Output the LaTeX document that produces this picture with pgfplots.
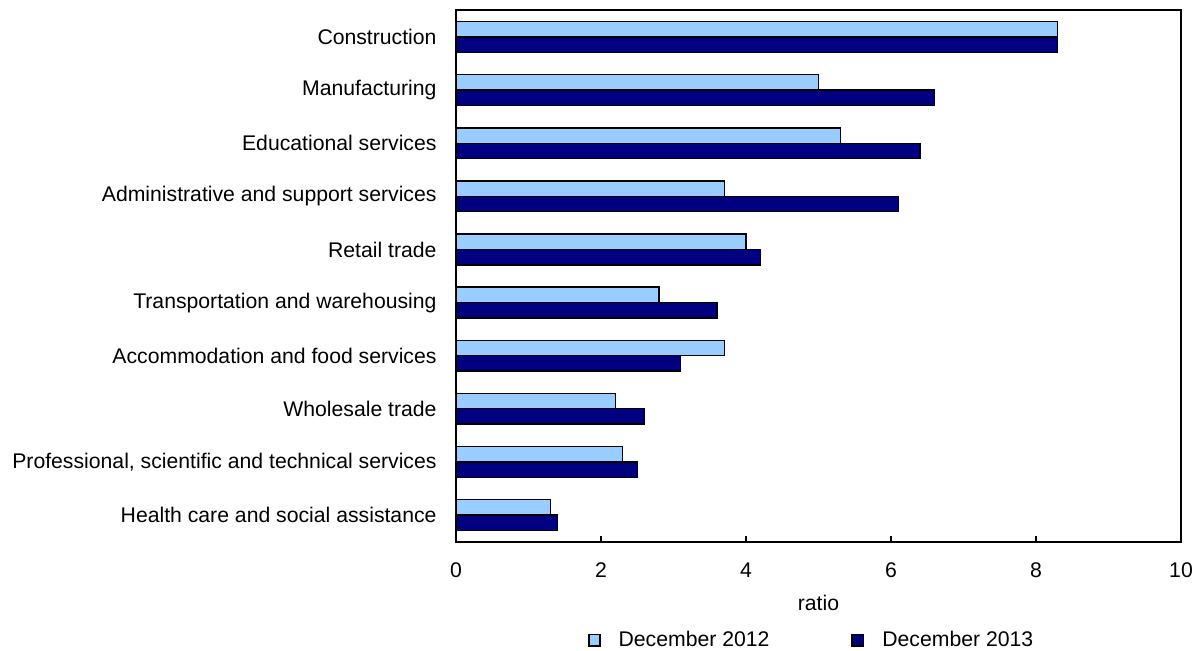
\documentclass[border=0pt]{standalone}
\usepackage{fontspec}
\setmainfont{Liberation Sans}
\usepackage{pgfplots}
\pgfplotsset{compat=1.18}
\definecolor{lightb}{HTML}{99CCFF}
\definecolor{darkb}{HTML}{000080}
\begin{document}
\fontsize{10.6}{12.5}\selectfont
\begin{tikzpicture}
\begin{axis}[
  name=ax,
  scale only axis,
  width=362.5pt, height=265.5pt,
  xbar,
  xmin=0, xmax=10,
  ymin=-0.5, ymax=9.5,
  bar width=0.29,
  xtick={0,2,4,6,8,10},
  ytick={0,...,9},
  yticklabels={Health care and social assistance,
    {Professional, scientific and technical services},
    Wholesale trade,
    Accommodation and food services,
    Transportation and warehousing,
    Retail trade,
    Administrative and support services,
    Educational services,
    Manufacturing,
    Construction},
  /pgf/number format/assume math mode=true,
  tick label style={font=\fontsize{10.6}{12.5}\selectfont},
  xticklabel style={yshift=-7pt},
  yticklabel style={xshift=-3pt},
  ytick style={draw=none},
  xtick align=inside,
  xtick pos=bottom,
  major tick length=3pt,
  xtick style={black, line width=0.6pt},
  axis line style={black, line width=1pt},
  xlabel={ratio},
  xlabel style={at={(axis description cs:0.5,0)}, anchor=center, yshift=-30.5pt, font=\fontsize{10.6}{12.5}\selectfont},
  legend columns=2,
  legend style={at={(0.5,0)}, anchor=center, yshift=-49.25pt, xshift=-3pt, draw=none,
    font=\fontsize{10.6}{12.5}\selectfont, /tikz/every even column/.append style={column sep=39pt}},
  legend image code/.code={\draw[#1, draw=black, line width=0.9pt] (0pt,-2.8pt) rectangle (5.6pt,2.8pt);\path[draw=none, fill=none] (0pt,0pt) -- (13pt,0pt);},
]
\addplot[fill=lightb, draw=black, line width=0.7pt, bar shift=0.145] coordinates {
  (1.3,0) (2.3,1) (2.2,2) (3.7,3) (2.8,4) (4.0,5) (3.7,6) (5.3,7) (5.0,8) (8.3,9)};
\addplot[fill=darkb, draw=black, line width=0.7pt, bar shift=-0.145] coordinates {
  (1.4,0) (2.5,1) (2.6,2) (3.1,3) (3.6,4) (4.2,5) (6.1,6) (6.4,7) (6.6,8) (8.3,9)};
\legend{December 2012, December 2013}
\end{axis}
\pgfresetboundingbox
\path (ax.south west) ++(-228pt,-54.25pt) coordinate (bl);
\path (ax.north east) ++(6.5pt,5.25pt) coordinate (tr);
\useasboundingbox (bl) rectangle (tr);
\end{tikzpicture}
\end{document}
